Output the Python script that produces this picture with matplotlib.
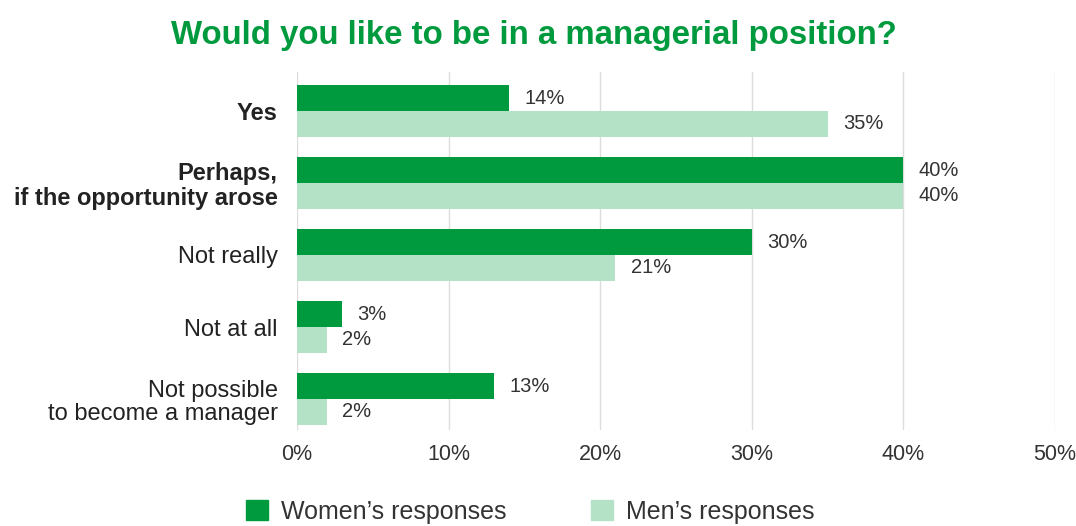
import numpy as np
import matplotlib.pyplot as plt
from matplotlib.patches import Patch

plt.rcParams['font.family'] = ['Liberation Sans', 'DejaVu Sans']

categories = ["Yes", "Perhaps,\nif the opportunity arose", "Not really",
              "Not at all", "Not possible\nto become a manager"]
bold_cats = [True, True, False, False, False]
women = [14, 40, 30, 3, 13]
men = [35, 40, 21, 2, 2]
xticks = [0, 10, 20, 30, 40, 50]

dark_green = "#009A3E"
light_green = "#B3E2C7"
text_col = "#333333"

fig = plt.figure(figsize=(10.76, 5.26), dpi=100)
ax = fig.add_axes([0.276, 0.1825, 0.7045, 0.6805])

y = np.arange(len(categories))
h = 0.355
ax.barh(y - h / 2, women, height=h, color=dark_green, zorder=3)
ax.barh(y + h / 2, men, height=h, color=light_green, zorder=3)

for i in range(len(categories)):
    ax.text(women[i] + 1.0, y[i] - h / 2, f"{women[i]}%", va="center", ha="left",
            fontsize=14.5, color=text_col)
    ax.text(men[i] + 1.0, y[i] + h / 2, f"{men[i]}%", va="center", ha="left",
            fontsize=14.5, color=text_col)

ax.set_xlim(0, 50)
ax.set_ylim(4.43, -0.54)
ax.set_xticks(xticks)
ax.set_xticklabels([f"{t}%" for t in xticks], fontsize=15.5, color=text_col)
ax.set_yticks(y)
ax.set_yticklabels(categories, fontsize=17, color="#222222", linespacing=1.08)
for lbl, b in zip(ax.get_yticklabels(), bold_cats):
    if b:
        lbl.set_fontweight("bold")
ax.tick_params(axis="both", length=0)
ax.tick_params(axis="y", pad=14)
ax.tick_params(axis="x", pad=10)
ax.grid(axis="x", color="#DDDDDD", linewidth=1, zorder=0)
for s in ax.spines.values():
    s.set_visible(False)

fig.text(0.496, 0.933, "Would you like to be in a managerial position?",
         ha="center", va="center", fontsize=23.8, fontweight="bold", color=dark_green)

handles = [Patch(color=dark_green), Patch(color=light_green)]
fig.legend(handles, ["Women\u2019s responses", "Men\u2019s responses"],
           loc="center", bbox_to_anchor=(0.493, 0.027), ncol=2, frameon=False,
           fontsize=18, handlelength=0.88, handleheight=0.88, handletextpad=0.52,
           columnspacing=3.4, labelcolor=text_col, borderpad=0)

fig.savefig("out.png", dpi=100)
